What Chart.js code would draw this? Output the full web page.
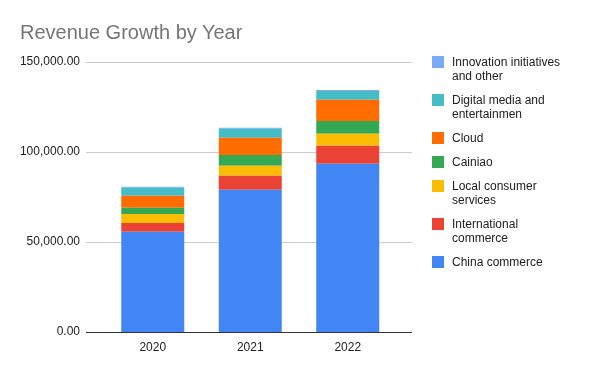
<!DOCTYPE html>
<html>
<head>
<meta charset="utf-8"/>
<style>
  html,body{margin:0;padding:0;background:#fff;}
  #wrap{position:relative;width:600px;height:371px;font-family:"Liberation Sans",Arial,sans-serif;}
  #title{position:absolute;left:20px;top:21px;font-size:20px;color:#757575;}
  #legend{position:absolute;left:432px;top:55px;font-size:12px;color:#222;line-height:14px;}
  .item{position:relative;padding-left:20px;}
  .sw{position:absolute;left:0;top:1px;width:12px;height:12px;}
  canvas{position:absolute;left:0;top:0;}
</style>
</head>
<body>
<div id="wrap">
  <canvas id="c" width="600" height="371"></canvas>
  <div id="title">Revenue Growth by Year</div>
  <div id="legend"></div>
</div>
<script src="https://cdn.jsdelivr.net/npm/chart.js@4.4.0/dist/chart.umd.min.js"></script>
<script>
const years = ['2020','2021','2022'];

// values (stack segments)
const chinaCommerce = [55700, 79060, 93500];
const intlCommerce  = [4860, 7780, 10010];
const localServices = [5000, 5560, 6660];
const cainiao       = [3500, 5940, 7060];
const cloud         = [6670, 9610, 11840];
const digitalMedia  = [4440, 5000, 4830];
const innovation    = [560, 560, 550];

const yTicks = [0, 50000, 100000, 150000];

// label lines as shown in the legend
const series = [
  { name:['China commerce'],                      data:chinaCommerce, color:'#4285F4' },
  { name:['International','commerce'],           data:intlCommerce,  color:'#EA4335' },
  { name:['Local consumer','services'],          data:localServices, color:'#FBBC04' },
  { name:['Cainiao'],                             data:cainiao,       color:'#34A853' },
  { name:['Cloud'],                               data:cloud,         color:'#FF6D01' },
  { name:['Digital media and','entertainmen'],   data:digitalMedia,  color:'#46BDC6' },
  { name:['Innovation initiatives','and other'], data:innovation,    color:'#7BAAF7' },
];

// gridlines run a bit wider than the bars' category band
const gridPlugin = {
  id:'grid',
  beforeDatasetsDraw(chart){
    const {ctx, scales:{y}} = chart;
    ctx.save();
    ctx.lineWidth = 1;
    yTicks.forEach(v => {
      const py = Math.round(y.getPixelForValue(v)) + 0.5;
      ctx.strokeStyle = v === 0 ? '#333' : '#ccc';
      ctx.beginPath(); ctx.moveTo(86, py); ctx.lineTo(412, py); ctx.stroke();
    });
    ctx.restore();
  },
  afterDatasetsDraw(chart){
    const {ctx, scales:{y}} = chart;
    const py = Math.round(y.getPixelForValue(0)) + 0.5;
    ctx.save();
    ctx.strokeStyle = '#333'; ctx.lineWidth = 1;
    ctx.beginPath(); ctx.moveTo(86, py); ctx.lineTo(412, py); ctx.stroke();
    ctx.restore();
  }
};

const chart = new Chart(document.getElementById('c'), {
  type:'bar',
  data:{
    labels: years,
    datasets: series.map(s => ({
      label: s.name.join(' '), data: s.data, backgroundColor: s.color,
      categoryPercentage: 1, barPercentage: 0.646, borderWidth: 0
    }))
  },
  options:{
    responsive:false, animation:false,
    layout:{ padding:{ top:62, right:203.5, left:0, bottom:0 } },
    plugins:{ legend:{display:false}, tooltip:{enabled:false} },
    scales:{
      x:{
        stacked:true,
        grid:{display:false}, border:{display:false},
        ticks:{ color:'#222', font:{family:'"Liberation Sans", Arial', size:12}, padding:0 },
        afterFit(s){ s.height = 39; }
      },
      y:{
        stacked:true, min:0, max:150000,
        grid:{display:false}, border:{display:false},
        afterBuildTicks(s){ s.ticks = yTicks.map(v => ({value:v})); },
        ticks:{
          color:'#222', font:{family:'"Liberation Sans", Arial', size:12}, padding:16,
          callback:v => v.toLocaleString('en-US',{minimumFractionDigits:2, maximumFractionDigits:2})
        },
        afterFit(s){ s.width = 104; }
      }
    }
  },
  plugins:[gridPlugin]
});

// html legend, top item is the top of the stack
const legend = document.getElementById('legend');
const gaps = [10, 10, 10, 10, 10, 10, 0];
series.slice().reverse().forEach((s, i) => {
  const d = document.createElement('div');
  d.className = 'item';
  d.style.marginBottom = gaps[i] + 'px';
  d.innerHTML = `<span class="sw" style="background:${s.color}"></span>` + s.name.join('<br>');
  legend.appendChild(d);
});
</script>
</body>
</html>
